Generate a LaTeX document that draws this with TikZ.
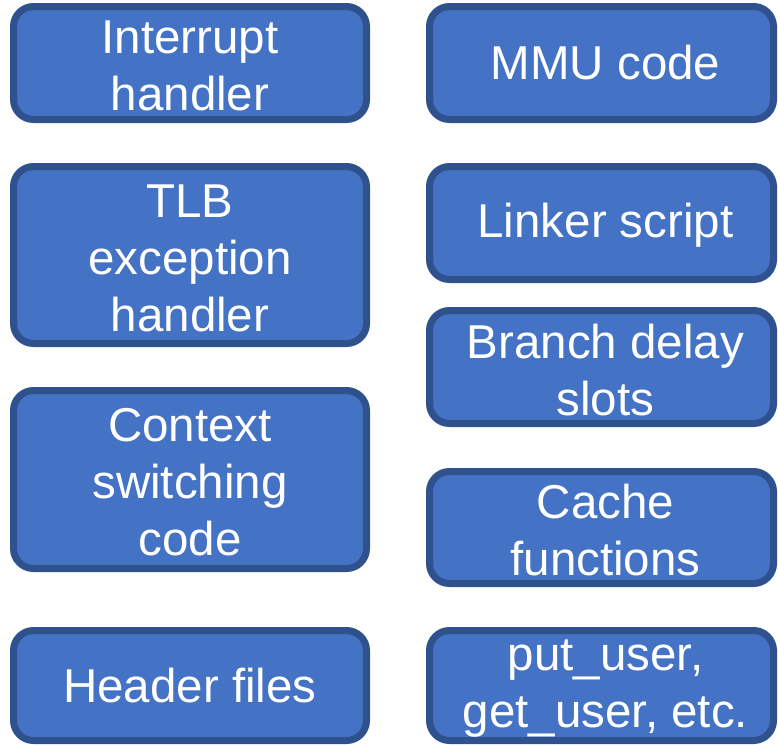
\documentclass[tikz,border=0pt]{standalone}
\usepackage{fontspec}
\setmainfont{Liberation Sans}
\definecolor{boxfill}{HTML}{4472C4}
\definecolor{boxline}{HTML}{2F528F}
\begin{document}
\begin{tikzpicture}[x=1pt,y=-1pt,
  topic/.style={draw=boxline, fill=boxfill, line width=7pt, rounded corners=20pt,
    inner sep=0pt, outer sep=0pt},
  leftbox/.style={topic, minimum width=353pt},
  rightbox/.style={topic, minimum width=344pt},
  boxtext/.style={text=white, align=center, inner sep=0pt,
    font=\fontsize{47.5}{57}\selectfont}]
\useasboundingbox (0,0) rectangle (778,744);
% left column
\node[leftbox, minimum height=113pt,
  label={[boxtext, yshift=-3pt]center:Interrupt\\handler}] (irq) at (190,63) {};
\node[leftbox, minimum height=177pt,
  label={[boxtext, yshift=-3pt]center:TLB\\exception\\handler}] (tlb) at (190,255) {};
\node[leftbox, minimum height=178pt,
  label={[boxtext, yshift=-3pt]center:Context\\switching\\code}] (ctx) at (190,479.5) {};
\node[leftbox, minimum height=110pt,
  label={[boxtext]center:Header files}] (hdr) at (190,685.5) {};
% right column
\node[rightbox, minimum height=113pt,
  label={[boxtext, xshift=4pt]center:MMU code}] (mmu) at (601.5,63) {};
\node[rightbox, minimum height=113pt,
  label={[boxtext, xshift=4pt, yshift=-2pt]center:Linker script}] (ld) at (601.5,223) {};
\node[rightbox, minimum height=113pt,
  label={[boxtext, xshift=4pt, yshift=-3pt]center:Branch delay\\slots}] (bds) at (601.5,367) {};
\node[rightbox, minimum height=112pt,
  label={[boxtext, xshift=4pt, yshift=-3pt]center:Cache\\functions}] (cache) at (601.5,527.5) {};
\node[rightbox, minimum height=110pt,
  label={[boxtext, xshift=4pt, yshift=-3pt]center:put\_user,\\get\_user, etc.}] (uacc) at (601.5,685.5) {};
\end{tikzpicture}
\end{document}
